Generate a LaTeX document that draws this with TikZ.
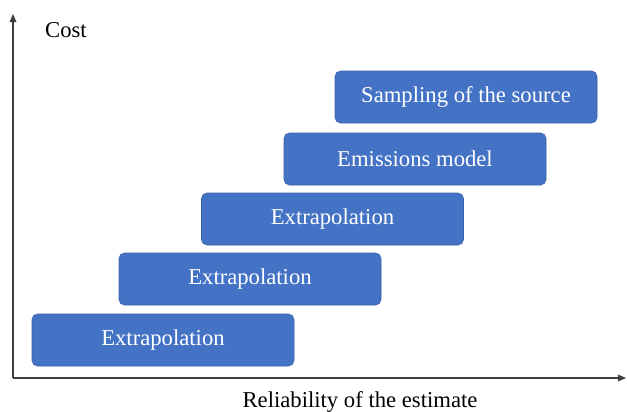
\documentclass[tikz,border=0pt]{standalone}
\usepackage{fontspec}
\setmainfont{Liberation Serif}
\usetikzlibrary{arrows.meta}
\definecolor{boxblue}{HTML}{4472C4}
\begin{document}
\begin{tikzpicture}[x=0.75pt,y=-0.75pt,
  stepbox/.style={draw=boxblue!85!black, line width=0.4pt, fill=boxblue, rounded corners=4pt,
    minimum width=262*0.75pt, minimum height=52*0.75pt, text=white, inner sep=0pt,
    font=\fontsize{17pt}{20pt}\selectfont},
  axis/.style={draw=black!75, line width=0.8pt, -{Triangle[length=6pt,width=5pt]}},
  lbl/.style={font=\fontsize{17pt}{20pt}\selectfont, text=black}]
\useasboundingbox (0,0) rectangle (627,411);
\coordinate (O) at (13,378);
\coordinate (ytop) at (13,14);
\coordinate (xend) at (626,378);
\draw[axis] (O) -- (ytop);
\draw[axis] (O) -- (xend);
\node[lbl] (cost) at (66,30) {Cost};
\node[lbl] (rel) at (360,402) {Reliability of the estimate};
\node[stepbox] (b1) at (163,340) {Extrapolation};
\node[stepbox] (b2) at (250,279) {Extrapolation};
\node[stepbox] (b3) at (332.5,219) {Extrapolation};
\node[stepbox] (b4) at (415,159) {Emissions model};
\node[stepbox] (b5) at (466,97) {Sampling of the source};
\end{tikzpicture}
\end{document}
